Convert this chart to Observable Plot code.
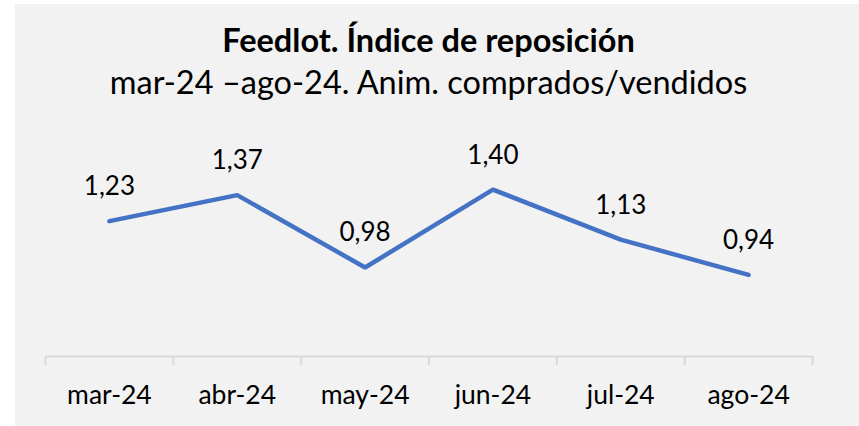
<!DOCTYPE html>
<html>
<head>
<meta charset="utf-8">
<script src="https://cdn.jsdelivr.net/npm/d3@7"></script>
<script src="https://cdn.jsdelivr.net/npm/@observablehq/plot@0.6"></script>
<style>
  html, body { margin: 0; padding: 0; background: #ffffff; width: 859px; height: 426px; overflow: hidden; }
  #panel { position: absolute; left: 15px; top: 4px; width: 844px; height: 422px; background: #f2f2f2; }
  #wrap { position: absolute; left: 0; top: 0; width: 859px; font-family: Lato, "Open Sans", sans-serif; color: #000; }
  #title { position: absolute; left: 0; width: 857px; top: 20px; text-align: center; font-weight: bold; font-size: 32.5px; line-height: 40px; }
  #subtitle { position: absolute; left: 0; width: 857px; top: 62px; text-align: center; font-size: 32.5px; line-height: 40px; }
  #chart { position: absolute; left: 0; top: 110px; }
</style>
</head>
<body>
<div id="panel"></div>
<div id="wrap">
  <div id="title">Feedlot. Índice de reposición</div>
  <div id="subtitle">mar-24 –ago-24. Anim. comprados/vendidos</div>
  <div id="chart"></div>
</div>
<script>
const months = ["mar-24", "abr-24", "may-24", "jun-24", "jul-24", "ago-24"];
const values = [1.23, 1.37, 0.98, 1.40, 1.13, 0.94];
const yDomain = [0.5, 1.6];

const data = months.map((m, i) => ({ i, m, v: values[i] }));
const fmt = v => v.toFixed(2).replace(".", ",");
const boundaries = data.map(d => d.i - 0.5).concat([data.length - 0.5]);

const chart = Plot.plot({
  width: 859,
  height: 316,
  marginLeft: 45,
  marginRight: 47,
  marginTop: 42,
  marginBottom: 70,
  style: { background: "transparent", fontFamily: "Lato, 'Open Sans', sans-serif", color: "#000", overflow: "visible" },
  x: { type: "linear", domain: [-0.5, data.length - 0.5], axis: null },
  y: { domain: yDomain, axis: null },
  marks: [
    Plot.ruleY([yDomain[0]], { stroke: "#d9d9d9", strokeWidth: 2 }),
    Plot.axisX(boundaries, { tickSize: 9, tickFormat: () => "", label: null, stroke: "#d9d9d9", strokeWidth: 2, strokeOpacity: 1 }),
    Plot.axisX(data.map(d => d.i), { tickSize: 0, tickPadding: 29, tickFormat: i => months[i], label: null, fontSize: 26.5, fill: "#000" }),
    Plot.line(data, { x: "i", y: "v", stroke: "#4472c4", strokeWidth: 4.5, strokeLinejoin: "miter", strokeLinecap: "round" }),
    Plot.text(data, { x: "i", y: "v", text: d => fmt(d.v), lineAnchor: "bottom", dy: -26, fontSize: 26, fill: "#000" })
  ]
});
document.getElementById("chart").appendChild(chart);
</script>
</body>
</html>
